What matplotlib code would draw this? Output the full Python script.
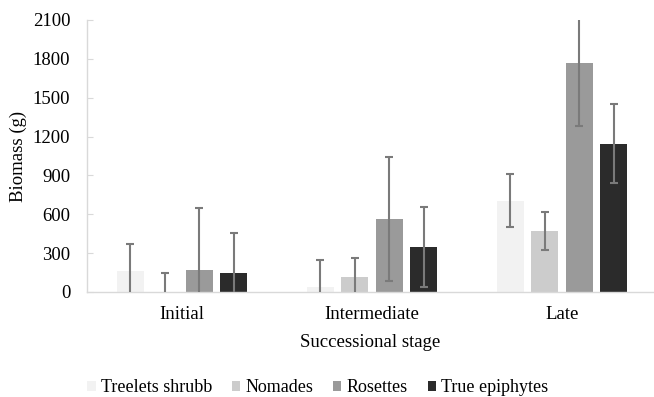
import numpy as np
import matplotlib.pyplot as plt

stages = ['Initial', 'Intermediate', 'Late']
groups = ['Treelets shrubb', 'Nomades', 'Rosettes', 'True epiphytes']
colors = ['#f2f2f2', '#cccccc', '#9a9a9a', '#2b2b2b']

treelets = [162, 40, 703]
nomades = [0, 116, 471]
rosettes = [170, 563, 1768]
true_epi = [147, 347, 1143]

treelets_err = [205, 207, 205]
nomades_err = [147, 146, 143]
rosettes_err = [479, 479, 486]
true_epi_err = [305, 308, 305]

means = [treelets, nomades, rosettes, true_epi]
errs = [treelets_err, nomades_err, rosettes_err, true_epi_err]

plt.rcParams['font.family'] = ['Liberation Serif', 'DejaVu Serif']
fs = 13.5

fig = plt.figure(figsize=(6.54, 3.97), dpi=100)
ax = fig.add_axes([87 / 654, 1 - 292 / 397, 567 / 654, 272 / 397])

x = np.arange(len(stages))
step = 0.182
width = 0.142
for i in range(4):
    pos = x + (i - 1.5) * step
    ax.bar(pos, means[i], width, color=colors[i], label=groups[i], zorder=2)
    ax.errorbar(pos, means[i], yerr=errs[i], fmt='none', ecolor='#7a7a7a',
                elinewidth=1.5, capsize=3, capthick=1.5, zorder=3)

ax.set_ylim(0, 2100)
ax.set_xlim(-0.5, 2.484)
ax.set_yticks(range(0, 2101, 300))
ax.set_xticks(x)
ax.set_xticklabels(stages)
ax.tick_params(axis='y', direction='in', length=4, color='#d9d9d9', labelsize=fs, pad=12)
ax.tick_params(axis='x', length=0, labelsize=fs, pad=10)
for s in ['top', 'right']:
    ax.spines[s].set_visible(False)
for s in ['left', 'bottom']:
    ax.spines[s].set_color('#d9d9d9')
    ax.spines[s].set_linewidth(1)

ax.set_ylabel('Biomass (g)', fontsize=fs)
ax.yaxis.set_label_coords(-60 / 567, 0.5)
ax.set_xlabel('Successional stage', fontsize=fs, labelpad=8)

ax.legend(loc='upper left', bbox_to_anchor=(-0.012, -0.295), ncol=4, frameon=False,
          fontsize=13, handlelength=0.45, handleheight=0.45, handletextpad=0.3,
          columnspacing=1.1, borderaxespad=0)

fig.savefig('out.png', dpi=100)
